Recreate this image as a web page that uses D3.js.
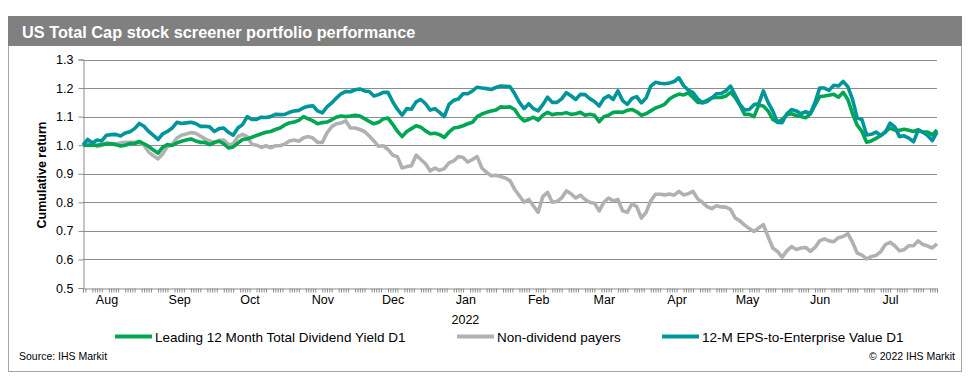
<!DOCTYPE html>
<html><head><meta charset="utf-8">
<script src="https://cdn.jsdelivr.net/npm/d3@7"></script>
<style>
html,body{margin:0;padding:0;background:#fff;}
svg{display:block;font-family:"Liberation Sans",Arial,sans-serif;}
</style></head>
<body><svg id="c" width="968" height="382"></svg>
<script>
const startDate = "2021-07-22";
const endDate = "2022-07-21";
const stepDays = 2;
const seriesNames = ["Leading 12 Month Total Dividend Yield D1", "Non-dividend payers", "12-M EPS-to-Enterprise Value D1"];
const yTicks = [0.5, 0.6, 0.7, 0.8, 0.9, 1.0, 1.1, 1.2, 1.3];
const monthTicks = ["2021-08-01","2021-09-01","2021-10-01","2021-11-01","2021-12-01","2022-01-01","2022-02-01","2022-03-01","2022-04-01","2022-05-01","2022-06-01","2022-07-01"];

const dividendYield = [1.0,1.0,1.0,1.0,1.002,1.004,1.005,1.002,0.997,1.0,1.006,1.006,1.013,1.005,0.996,0.983,0.972,0.993,1.002,0.999,
1.008,1.014,1.018,1.022,1.015,1.01,1.01,1.002,1.01,1.014,1.005,0.99,0.994,1.007,1.02,1.022,1.028,1.034,1.04,1.045,
1.048,1.055,1.06,1.071,1.078,1.081,1.087,1.1,1.092,1.085,1.075,1.079,1.081,1.089,1.098,1.102,1.1,1.102,1.105,1.102,
1.093,1.083,1.075,1.08,1.092,1.095,1.073,1.049,1.03,1.048,1.058,1.068,1.063,1.05,1.04,1.042,1.037,1.027,1.046,1.06,
1.063,1.068,1.075,1.08,1.1,1.109,1.115,1.12,1.123,1.134,1.133,1.134,1.125,1.1,1.085,1.09,1.098,1.087,1.105,1.115,
1.107,1.11,1.11,1.114,1.108,1.11,1.115,1.105,1.108,1.105,1.082,1.1,1.105,1.115,1.116,1.115,1.122,1.125,1.117,1.105,
1.11,1.12,1.13,1.136,1.144,1.162,1.172,1.179,1.176,1.183,1.167,1.15,1.15,1.157,1.166,1.167,1.167,1.172,1.185,1.167,
1.14,1.108,1.108,1.1,1.14,1.137,1.12,1.09,1.081,1.09,1.107,1.11,1.104,1.1,1.096,1.11,1.14,1.17,1.172,1.175,
1.178,1.168,1.185,1.16,1.11,1.07,1.048,1.01,1.015,1.024,1.033,1.048,1.06,1.053,1.052,1.056,1.052,1.048,1.054,1.046,
1.046,1.036,1.053];

const nonDividend = [1.0,1.004,1.008,0.995,1.0,1.008,1.006,1.004,1.008,1.01,1.01,1.01,1.008,1.0,0.976,0.963,0.952,0.97,0.995,1.002,
1.025,1.035,1.039,1.044,1.042,1.032,1.022,1.015,1.008,1.017,1.018,1.002,1.004,1.03,1.038,1.03,1.003,1.0,0.992,0.998,
0.991,0.998,0.998,1.004,1.015,1.018,1.014,1.026,1.03,1.025,1.01,1.01,1.043,1.065,1.075,1.078,1.085,1.06,1.06,1.055,
1.048,1.032,1.015,0.996,0.998,0.985,0.965,0.96,0.92,0.925,0.928,0.965,0.95,0.935,0.91,0.92,0.912,0.918,0.938,0.945,
0.96,0.957,0.941,0.95,0.96,0.92,0.905,0.893,0.895,0.89,0.885,0.876,0.845,0.823,0.8,0.81,0.787,0.765,0.82,0.835,
0.8,0.803,0.815,0.84,0.83,0.815,0.825,0.81,0.8,0.797,0.77,0.8,0.815,0.805,0.81,0.77,0.765,0.795,0.785,0.745,
0.765,0.805,0.828,0.828,0.826,0.829,0.825,0.838,0.826,0.83,0.838,0.812,0.8,0.785,0.778,0.788,0.784,0.783,0.775,0.745,
0.735,0.72,0.708,0.698,0.71,0.722,0.68,0.64,0.628,0.608,0.63,0.645,0.635,0.64,0.642,0.628,0.642,0.665,0.672,0.665,
0.662,0.676,0.68,0.69,0.66,0.622,0.615,0.602,0.61,0.614,0.627,0.652,0.66,0.648,0.63,0.634,0.648,0.648,0.665,0.652,
0.647,0.64,0.655];

const epsToEV = [1.0,1.02,1.008,1.018,1.015,1.035,1.037,1.038,1.032,1.043,1.047,1.058,1.076,1.066,1.048,1.034,1.02,1.04,1.048,1.06,
1.08,1.076,1.078,1.08,1.076,1.066,1.066,1.064,1.048,1.058,1.06,1.045,1.035,1.06,1.072,1.1,1.09,1.09,1.098,1.097,
1.1,1.108,1.107,1.108,1.115,1.12,1.122,1.131,1.136,1.138,1.12,1.113,1.134,1.148,1.165,1.18,1.188,1.187,1.194,1.197,
1.19,1.188,1.172,1.177,1.185,1.185,1.152,1.126,1.105,1.128,1.126,1.152,1.16,1.145,1.123,1.128,1.115,1.1,1.143,1.157,
1.162,1.18,1.18,1.19,1.203,1.2,1.198,1.195,1.202,1.207,1.206,1.205,1.18,1.15,1.128,1.145,1.128,1.12,1.142,1.168,
1.15,1.15,1.162,1.184,1.173,1.16,1.178,1.177,1.163,1.153,1.137,1.163,1.173,1.16,1.19,1.156,1.143,1.164,1.17,1.148,
1.165,1.207,1.22,1.217,1.215,1.218,1.223,1.236,1.208,1.193,1.184,1.162,1.148,1.153,1.165,1.18,1.181,1.19,1.207,1.175,
1.143,1.123,1.125,1.142,1.145,1.19,1.15,1.12,1.08,1.079,1.11,1.125,1.12,1.11,1.117,1.11,1.15,1.2,1.2,1.192,
1.21,1.207,1.223,1.205,1.16,1.095,1.09,1.036,1.038,1.046,1.034,1.045,1.077,1.064,1.03,1.033,1.025,1.012,1.053,1.045,
1.034,1.016,1.046];

const colors = ["#00a651", "#b1b1b1", "#00959a"];

// ---- layout ----
const svg = d3.select("#c");
const parse = d3.timeParse("%Y-%m-%d");
const t0 = parse(startDate), t1 = parse(endDate);
const x = d3.scaleTime().domain([t0, t1]).range([83, 937]);
const y = d3.scaleLinear().domain([0.5, 1.3]).range([288, 59.5]);
const dateAt = i => d3.timeDay.offset(t0, i * stepDays);

// frame
svg.append("rect").attr("x", 8.5).attr("y", 16.5).attr("width", 953).attr("height", 355)
  .attr("fill", "none").attr("stroke", "#a6a6a6").attr("stroke-width", 1);
svg.append("rect").attr("x", 8).attr("y", 16).attr("width", 954).attr("height", 30).attr("fill", "#808080");
svg.append("text").attr("x", 22).attr("y", 38).attr("fill", "#fff")
  .attr("font-size", 16.3).attr("font-weight", "bold").text("US Total Cap stock screener portfolio performance");

// gridlines
svg.append("g").selectAll("line").data(yTicks.filter(v => v > 0.5)).join("line")
  .attr("x1", 83).attr("x2", 937).attr("y1", d => Math.round(y(d)) + 0.5).attr("y2", d => Math.round(y(d)) + 0.5)
  .attr("stroke", "#8c8c8c").attr("stroke-width", 1);

// y axis
const yAxis = d3.axisLeft(y).tickValues(yTicks).tickFormat(d3.format(".1f")).tickSize(5).tickPadding(5);
const gy = svg.append("g").attr("transform", "translate(83.5,0)").call(yAxis);
gy.select(".domain").attr("stroke", "#8c8c8c");
gy.selectAll(".tick line").attr("stroke", "#8c8c8c");
gy.selectAll(".tick text").attr("font-size", 12.5).attr("fill", "#000").attr("font-family", "Liberation Sans, Arial, sans-serif");
svg.append("text").attr("transform", "translate(46,175) rotate(-90)").attr("text-anchor", "middle")
  .attr("font-size", 12.5).attr("font-weight", "bold").attr("fill", "#000").text("Cumulative return");

// x axis: minor ticks on weekdays
const weekdays = d3.timeDay.range(t0, d3.timeDay.offset(t1, 1)).filter(d => d.getDay() !== 0 && d.getDay() !== 6);
const gxm = svg.append("g").attr("transform", "translate(0,288.5)")
  .call(d3.axisBottom(x).tickValues(weekdays).tickSize(4).tickFormat(""));
gxm.select(".domain").attr("stroke", "#8c8c8c");
gxm.selectAll(".tick line").attr("stroke", "#8c8c8c");
const months = monthTicks.map(parse);
const gx = svg.append("g").attr("transform", "translate(0,288.5)")
  .call(d3.axisBottom(x).tickValues(months).tickSize(0).tickPadding(7).tickFormat(d3.timeFormat("%b")));
gx.select(".domain").remove();
gx.selectAll(".tick text").attr("font-size", 12.5).attr("fill", "#000").attr("font-family", "Liberation Sans, Arial, sans-serif");
svg.append("text").attr("x", x(parse("2022-01-01"))).attr("y", 323.5).attr("text-anchor", "middle")
  .attr("font-size", 12.5).attr("fill", "#000").text("2022");

// lines
const line = d3.line().x((d, i) => x(dateAt(i))).y(d => y(d));
const drawOrder = [[nonDividend, 1], [dividendYield, 0], [epsToEV, 2]];
drawOrder.forEach(([vals, k]) => {
  svg.append("path").datum(vals).attr("d", line).attr("fill", "none")
    .attr("stroke", colors[k]).attr("stroke-width", 3.6).attr("stroke-linejoin", "round");
});

// legend
const legendX = [115, 457, 662];
seriesNames.forEach((name, k) => {
  svg.append("line").attr("x1", legendX[k]).attr("x2", legendX[k] + 37).attr("y1", 336.5).attr("y2", 336.5)
    .attr("stroke", colors[k]).attr("stroke-width", 4);
  svg.append("text").attr("x", legendX[k] + 40).attr("y", 341.5).attr("font-size", 13.5).attr("fill", "#000").text(name);
});

// source / copyright
svg.append("text").attr("x", 19).attr("y", 360).attr("font-size", 10.5).attr("fill", "#000").text("Source: IHS Markit");
svg.append("text").attr("x", 955).attr("y", 360).attr("text-anchor", "end").attr("font-size", 10.5).attr("fill", "#000").text("© 2022 IHS Markit");
</script></body></html>
